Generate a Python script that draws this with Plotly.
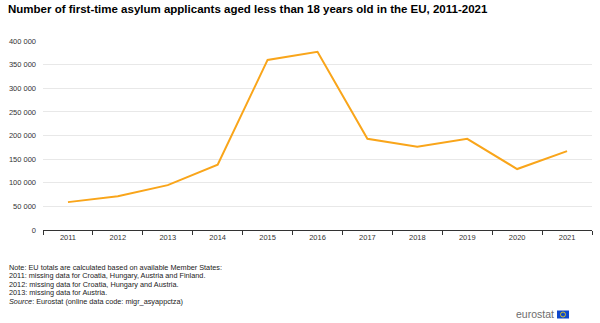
import plotly.graph_objects as go

years = ["2011", "2012", "2013", "2014", "2015", "2016", "2017", "2018", "2019", "2020", "2021"]
applicants = [59000, 71500, 95000, 138000, 360000, 377000, 193000, 176000, 193000, 129000, 167000]

title_text = "Number of first-time asylum applicants aged less than 18 years old in the EU, 2011-2021"
note_lines = [
    "Note: EU totals are calculated based on available Member States:",
    "2011: missing data for Croatia, Hungary, Austria and Finland.",
    "2012: missing data for Croatia, Hungary and Austria.",
    "2013: missing data for Austria.",
    "<i>Source</i>: Eurostat (online data code: migr_asyappctza)",
]

W, H = 600, 323
L, R, T, B = 43, 8, 41, 93
pw, ph = W - L - R, H - T - B

def px(x):
    return (x - L) / pw

def py(y):
    return (H - B - y) / ph

fig = go.Figure()
fig.add_trace(go.Scatter(
    x=years, y=applicants, mode="lines",
    line=dict(color="#F9A51A", width=2),
    hoverinfo="x+y",
))

font = "Liberation Sans, Arial, sans-serif"
annotations = [
    dict(text="<b>" + title_text + "</b>", x=px(6), y=py(9.5), xref="paper", yref="paper",
         xanchor="left", yanchor="middle", showarrow=False,
         font=dict(family=font, size=11.5, color="#000000")),
]
note_y = [267, 275.5, 284, 292.5, 301.5]
for t, yy in zip(note_lines, note_y):
    annotations.append(dict(text=t, x=px(7), y=py(yy), xref="paper", yref="paper",
                            xanchor="left", yanchor="middle", showarrow=False,
                            font=dict(family=font, size=7.3, color="#222222")))
annotations.append(dict(text="eurostat", x=px(556), y=py(314), xref="paper", yref="paper",
                        xanchor="right", yanchor="middle", showarrow=False,
                        font=dict(family=font, size=10.5, color="#6d6d6d")))
fig.update_layout(annotations=annotations)

fig.add_shape(type="rect", xref="paper", yref="paper",
              x0=px(557), x1=px(569), y0=py(318.5), y1=py(310.5),
              fillcolor="#0E47CB", line=dict(width=0))
fig.add_shape(type="circle", xref="paper", yref="paper",
              x0=px(560.5), x1=px(565.5), y0=py(317), y1=py(312),
              line=dict(color="#FFDD00", width=0.8))

fig.update_layout(
    width=W, height=H,
    margin=dict(l=L, r=R, t=T, b=B),
    paper_bgcolor="white", plot_bgcolor="white",
    showlegend=False,
    separators=". ",
    font=dict(family=font, size=7.5, color="#333333"),
    xaxis=dict(type="category", range=[-0.5, 10.5], tickson="boundaries",
               ticks="outside", ticklen=4, tickcolor="#333333",
               showline=True, linecolor="#333333", linewidth=1,
               showgrid=False, tickfont=dict(size=7.5, color="#333333")),
    yaxis=dict(range=[0, 400000], dtick=50000, tickformat=",d",
               showgrid=True, gridcolor="#e8e8e8", gridwidth=1,
               zeroline=False, showline=False, ticks="",
               ticklabelstandoff=6, tickfont=dict(size=7.5, color="#333333")),
)

fig.write_html("out.html")
